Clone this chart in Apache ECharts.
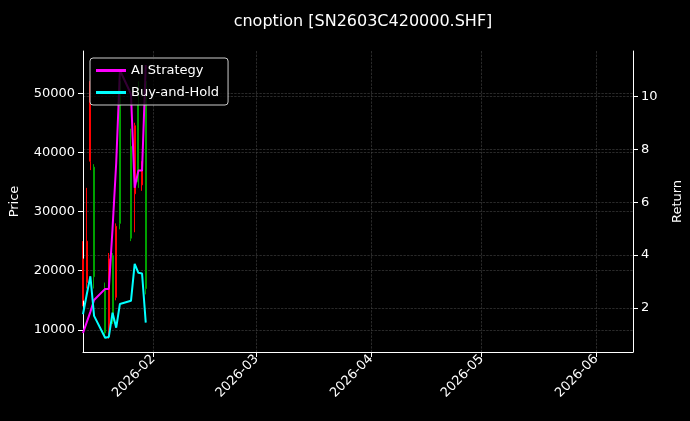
<!DOCTYPE html>
<html>
<head>
<meta charset="utf-8">
<script src="https://cdn.jsdelivr.net/npm/echarts@6/dist/echarts.min.js"></script>
<style>html,body{margin:0;background:#000;}#main{width:690px;height:421px;}</style>
</head>
<body>
<div id="main"></div>
<script>
var dates=['2026-01-13','2026-01-14','2026-01-15','2026-01-16','2026-01-19','2026-01-20','2026-01-21','2026-01-22','2026-01-23','2026-01-26','2026-01-27','2026-01-28','2026-01-29','2026-01-30'];
// open, close, low, high
var ohlc=[
	[22000,15000,14000,25000],
	[25000,18000,17000,34000],
	[52000,38500,37000,53000],
	[19000,37500,17000,38000],
	[9500,17000,8600,18000],
	[22000,9000,8500,23000],
	[11500,22500,11000,23000],
	[27500,15500,15000,28000],
	[28000,52000,27000,53000],
	[25500,41000,25000,44000],
	[44500,33000,26500,45000],
	[35000,48000,34000,52000],
	[37500,34500,33500,38500],
	[17000,52000,16000,54000]
];
var aiReturn=[1.05,1.45,1.85,2.3,2.72,2.72,5.0,7.5,11.0,10.1,6.55,7.2,7.2,11.2];
var bhReturn=[1.76,2.5,3.2,1.7,0.87,0.9,1.82,1.25,2.15,2.27,3.67,3.33,3.3,1.44];
var priceTicks=[10000,20000,30000,40000,50000];
var returnTicks=[2,4,6,8,10];
var monthTicks=['2026-02-01','2026-03-01','2026-04-01','2026-05-01','2026-06-01'];

var chart=echarts.init(document.getElementById('main'));
function ts(d){return Date.UTC(+d.slice(0,4),+d.slice(5,7)-1,+d.slice(8,10));}
var candleData=dates.map(function(d,i){return [ts(d)].concat(ohlc[i]);});
var aiData=dates.map(function(d,i){return [ts(d),aiReturn[i]];});
var bhData=dates.map(function(d,i){return [ts(d),bhReturn[i]];});
var font='DejaVu Sans';
var gridLine={color:'#444',type:'dashed',width:0.6};
var option={
	backgroundColor:'#000',
	animation:false,
	textStyle:{fontFamily:font},
	title:{text:'cnoption [SN2603C420000.SHF]',left:358,top:9,textAlign:'center',textStyle:{color:'#fff',fontSize:16,fontWeight:'normal',fontFamily:font}},
	legend:{
		left:90,top:58,orient:'vertical',itemGap:9,itemWidth:30,itemHeight:3,
		backgroundColor:'rgba(0,0,0,0.8)',borderColor:'#ccc',borderWidth:1,borderRadius:3,padding:[6,9,6,6],
		textStyle:{color:'#fff',fontSize:13,fontFamily:font},
		data:[{name:'AI Strategy',icon:'rect'},{name:'Buy-and-Hold',icon:'rect'}]
	},
	grid:{left:83,right:57,top:51,bottom:69,outerBoundsMode:'none'},
	xAxis:{
		type:'value',min:ts('2026-01-13'),max:ts('2026-06-11'),
		axisLine:{lineStyle:{color:'#fff'}},
		axisTick:{customValues:monthTicks.map(ts),lineStyle:{color:'#fff'}},
		axisLabel:{customValues:monthTicks.map(ts),rotate:45,margin:5,color:'#fff',fontSize:13,
			formatter:function(v){var d=new Date(v);return d.getUTCFullYear()+'-'+String(d.getUTCMonth()+1).padStart(2,'0');}},
		splitLine:{show:true,lineStyle:gridLine}
	},
	yAxis:[{
		type:'value',min:6270,max:57120,name:'Price',nameLocation:'middle',nameGap:62,
		nameTextStyle:{color:'#fff',fontSize:13},
		axisLine:{show:true,lineStyle:{color:'#fff'}},
		axisTick:{show:true,customValues:priceTicks},
		axisLabel:{customValues:priceTicks,color:'#fff',fontSize:13,formatter:function(v){return String(v);}},
		splitLine:{show:true,lineStyle:gridLine}
	},{
		type:'value',min:0.33,max:11.73,name:'Return',nameLocation:'middle',nameGap:38,
		nameTextStyle:{color:'#fff',fontSize:13},
		axisLine:{show:true,lineStyle:{color:'#fff'}},
		axisTick:{show:true,customValues:returnTicks},
		axisLabel:{customValues:returnTicks,color:'#fff',fontSize:13},
		splitLine:{show:true,lineStyle:gridLine}
	}],
	series:[{
		name:'Price',type:'candlestick',data:candleData,barWidth:1.5,
		itemStyle:{color:'#00a000',color0:'#ff0000',borderColor:'#00a000',borderColor0:'#ff0000',borderWidth:1}
	},{
		name:'AI Strategy',type:'line',yAxisIndex:1,data:aiData,showSymbol:false,
		lineStyle:{color:'#ff00ff',width:2},itemStyle:{color:'#ff00ff'}
	},{
		name:'Buy-and-Hold',type:'line',yAxisIndex:1,data:bhData,showSymbol:false,
		lineStyle:{color:'#00ffff',width:2},itemStyle:{color:'#00ffff'}
	}]
};
chart.setOption(option);
window.addEventListener('resize',function(){chart.resize();});
</script>
</body>
</html>
